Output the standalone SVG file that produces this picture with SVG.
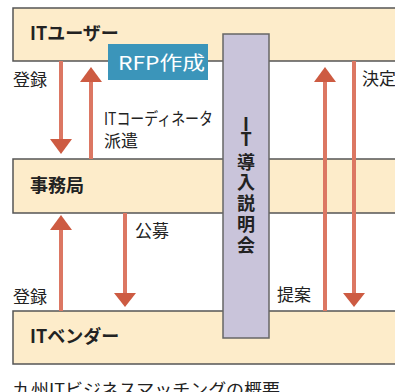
<svg xmlns="http://www.w3.org/2000/svg" width="395" height="392" viewBox="0 0 395 392">
<style>
.box{fill:#fdecca;stroke:#555;stroke-width:1.5}
.title{font-family:"Noto Sans CJK JP","Noto Sans",sans-serif;font-weight:bold;font-size:18px;fill:#222}
.lbl{font-family:"Noto Sans CJK JP","Noto Sans",sans-serif;font-size:17px;fill:#222}
.shaft{stroke:#dc7763;stroke-width:4;fill:none}
.head{fill:#cd5b42}
</style>
<rect width="395" height="392" fill="#fff"/>
<g id="it-user"><rect class="box" x="13" y="8" width="390" height="53"/><text class="title" x="30" y="40">ITユーザー</text></g>
<g id="jimukyoku"><rect class="box" x="13" y="159" width="390" height="54"/><text class="title" x="30" y="192">事務局</text></g>
<g id="it-vendor"><rect class="box" x="13" y="311" width="390" height="53"/><text class="title" x="30" y="343">ITベンダー</text></g>
<g id="rfp"><rect x="108" y="44" width="100" height="36" fill="#3b95ba"/><text x="118" y="70" textLength="87" lengthAdjust="spacingAndGlyphs" font-family="'Noto Sans CJK JP','Noto Sans',sans-serif" font-size="19" fill="#fff">RFP作成</text></g>
<g id="connectors">
<line class="shaft" x1="61" y1="61" x2="61" y2="140"/><polygon class="head" points="50,139 72,139 61,154"/>
<line class="shaft" x1="91" y1="159" x2="91" y2="81"/><polygon class="head" points="80,82 102,82 91,67"/>
<line class="shaft" x1="61" y1="311" x2="61" y2="229"/><polygon class="head" points="50,230 72,230 61,215"/>
<line class="shaft" x1="125" y1="213" x2="125" y2="294"/><polygon class="head" points="114,293 136,293 125,307"/>
<line class="shaft" x1="325" y1="311" x2="325" y2="81"/><polygon class="head" points="314,82 336,82 325,67"/>
<line class="shaft" x1="354" y1="61" x2="354" y2="294"/><polygon class="head" points="343,293 365,293 354,307"/>
</g>
<g id="it-setsumeikai"><rect x="223" y="34" width="46" height="304" fill="#c9c4da" stroke="#666" stroke-width="1.5"/>
<text class="title" text-anchor="middle" font-size="19"><tspan x="246" y="131">I</tspan><tspan x="246" y="146">T</tspan><tspan x="246" y="169">導</tspan><tspan x="246" y="189">入</tspan><tspan x="246" y="210">説</tspan><tspan x="246" y="231">明</tspan><tspan x="246" y="252">会</tspan></text>
</g>
<g id="labels">
<text class="lbl" x="13" y="86">登録</text>
<text class="lbl" x="104" y="125" textLength="109" lengthAdjust="spacingAndGlyphs">ITコーディネータ</text>
<text class="lbl" x="104" y="147">派遣</text>
<text class="lbl" x="362" y="85">決定</text>
<text class="lbl" x="135" y="237">公募</text>
<text class="lbl" x="13" y="303">登録</text>
<text class="lbl" x="277" y="301">提案</text>
<text class="lbl" x="13" y="396" font-size="18.5" textLength="267" lengthAdjust="spacingAndGlyphs">九州ITビジネスマッチングの概要</text>
</g>
</svg>
